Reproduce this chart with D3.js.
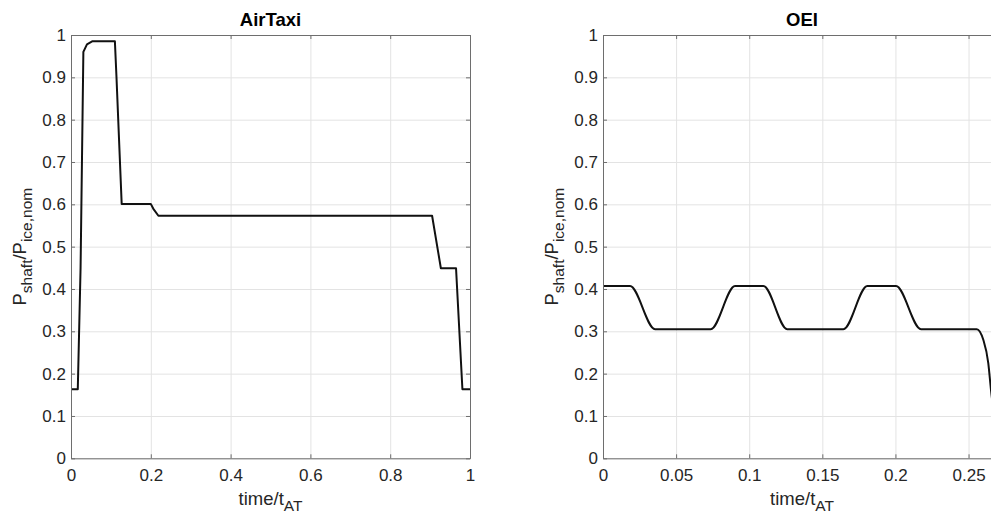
<!DOCTYPE html>
<html>
<head>
<meta charset="utf-8">
<script src="https://cdn.jsdelivr.net/npm/d3@7"></script>
<style>
  body { margin: 0; background: #fff; }
  text { font-family: "Liberation Sans", Arial, sans-serif; fill: #262626; }
</style>
</head>
<body>
<svg id="chart" width="991" height="515"></svg>
<script>
// AirTaxi mission: normalised time vs shaft power ratio
var airTaxiTime  = [0, 0.017, 0.024, 0.031, 0.040, 0.053, 0.110, 0.114, 0.127, 0.200, 0.206, 0.219, 0.905, 0.927, 0.965, 0.981, 1];
var airTaxiPower = [0.163, 0.163, 0.45, 0.960, 0.978, 0.985, 0.985, 0.900, 0.601, 0.601, 0.590, 0.573, 0.573, 0.449, 0.449, 0.163, 0.163];

// OEI mission
var oeiTime  = [0, 0.0185, 0.0356, 0.0737, 0.0903, 0.1097, 0.1260, 0.1644, 0.1808, 0.2004, 0.2175, 0.2556, 0.2601, 0.2635, 0.2654, 0.2700];
var oeiPower = [0.407, 0.407, 0.305, 0.305, 0.407, 0.407, 0.305, 0.305, 0.407, 0.407, 0.305, 0.305, 0.280, 0.225, 0.160, 0.050];

var yTicks = [0, 0.1, 0.2, 0.3, 0.4, 0.5, 0.6, 0.7, 0.8, 0.9, 1];
var yTickLabels = ['0', '0.1', '0.2', '0.3', '0.4', '0.5', '0.6', '0.7', '0.8', '0.9', '1'];
var airTaxiXTicks = [0, 0.2, 0.4, 0.6, 0.8, 1];
var airTaxiXLabels = ['0', '0.2', '0.4', '0.6', '0.8', '1'];
var oeiXTicks = [0, 0.05, 0.1, 0.15, 0.2, 0.25];
var oeiXLabels = ['0', '0.05', '0.1', '0.15', '0.2', '0.25'];

var svg = d3.select('#chart');
var plotTop = 35, plotBottom = 458.3;

function drawPanel(opt) {
  var data = opt.time.map(function(t, i) { return {x: t, y: opt.power[i]}; });

  var xScale = d3.scaleLinear().domain(opt.xDomain).range([opt.left, opt.right]);
  var yScale = d3.scaleLinear().domain([0, 1]).range([plotBottom, plotTop]);

  var g = svg.append('g');

  // grid
  g.append('g')
    .attr('transform', 'translate(0,' + plotBottom + ')')
    .call(d3.axisBottom(xScale).tickValues(opt.xTicks).tickSize(-(plotBottom - plotTop)).tickFormat(''))
    .call(function(s) {
      s.select('.domain').remove();
      s.selectAll('line').attr('stroke', '#e3e3e3').attr('stroke-width', 1);
    });
  g.append('g')
    .attr('transform', 'translate(' + opt.left + ',0)')
    .call(d3.axisLeft(yScale).tickValues(yTicks).tickSize(-(opt.right - opt.left)).tickFormat(''))
    .call(function(s) {
      s.select('.domain').remove();
      s.selectAll('line').attr('stroke', '#e3e3e3').attr('stroke-width', 1);
    });

  // clip
  var clipId = 'clip-' + opt.id;
  svg.append('clipPath').attr('id', clipId)
    .append('rect')
    .attr('x', opt.left).attr('y', plotTop)
    .attr('width', opt.right - opt.left).attr('height', plotBottom - plotTop);

  var line = d3.line()
    .x(function(d) { return xScale(d.x); })
    .y(function(d) { return yScale(d.y); })
    .curve(opt.curve);

  g.append('path')
    .datum(data)
    .attr('clip-path', 'url(#' + clipId + ')')
    .attr('fill', 'none')
    .attr('stroke', '#111')
    .attr('stroke-width', 2)
    .attr('stroke-linejoin', 'round')
    .attr('d', line);

  // axes (ticks point inward, box on)
  var axisColor = '#6e6e6e';
  function styleAxis(s) {
    s.select('.domain').attr('stroke', axisColor);
    s.selectAll('.tick line').attr('stroke', axisColor);
    s.selectAll('.tick text').attr('font-size', 17).attr('fill', '#262626');
  }
  g.append('g')
    .attr('transform', 'translate(0,' + plotBottom + ')')
    .call(d3.axisBottom(xScale).tickValues(opt.xTicks).tickSizeInner(-4).tickSizeOuter(0).tickPadding(11)
      .tickFormat(function(d, i) { return opt.xLabels[i]; }))
    .call(styleAxis);
  g.append('g')
    .attr('transform', 'translate(0,' + plotTop + ')')
    .call(d3.axisTop(xScale).tickValues(opt.xTicks).tickSizeInner(-4).tickSizeOuter(0).tickFormat(''))
    .call(styleAxis);
  g.append('g')
    .attr('transform', 'translate(' + opt.left + ',0)')
    .call(d3.axisLeft(yScale).tickValues(yTicks).tickSizeInner(-4).tickSizeOuter(0).tickPadding(5)
      .tickFormat(function(d, i) { return yTickLabels[i]; }))
    .call(styleAxis);
  g.append('g')
    .attr('transform', 'translate(' + opt.right + ',0)')
    .call(d3.axisRight(yScale).tickValues(yTicks).tickSizeInner(-4).tickSizeOuter(0).tickFormat(''))
    .call(styleAxis);

  // title
  var cx = (opt.left + opt.right) / 2;
  g.append('text')
    .attr('x', cx).attr('y', 26)
    .attr('text-anchor', 'middle')
    .attr('font-size', 18.5).attr('font-weight', 'bold')
    .style('fill', '#000')
    .text(opt.title);

  // x label
  var xl = g.append('text')
    .attr('x', cx).attr('y', 505)
    .attr('text-anchor', 'middle')
    .attr('font-size', 18.5);
  xl.append('tspan').text('time/t');
  xl.append('tspan').attr('dy', 6).attr('font-size', 15.5).text('AT');

  // y label
  var yl = g.append('text')
    .attr('transform', 'translate(' + (opt.left - 45) + ',' + ((plotTop + plotBottom) / 2) + ') rotate(-90)')
    .attr('text-anchor', 'middle')
    .attr('font-size', 18.5);
  yl.append('tspan').text('P');
  yl.append('tspan').attr('dy', 6).attr('font-size', 15.5).text('shaft');
  yl.append('tspan').attr('dy', -6).text('/P');
  yl.append('tspan').attr('dy', 6).attr('font-size', 15.5).text('ice,nom');
}

drawPanel({
  id: 'airtaxi', title: 'AirTaxi',
  time: airTaxiTime, power: airTaxiPower,
  xDomain: [0, 1], left: 71, right: 470,
  xTicks: airTaxiXTicks, xLabels: airTaxiXLabels,
  curve: d3.curveLinear
});

drawPanel({
  id: 'oei', title: 'OEI',
  time: oeiTime, power: oeiPower,
  xDomain: [0, 0.2722], left: 603, right: 1001,
  xTicks: oeiXTicks, xLabels: oeiXLabels,
  curve: d3.curveMonotoneX
});
</script>
</body>
</html>
